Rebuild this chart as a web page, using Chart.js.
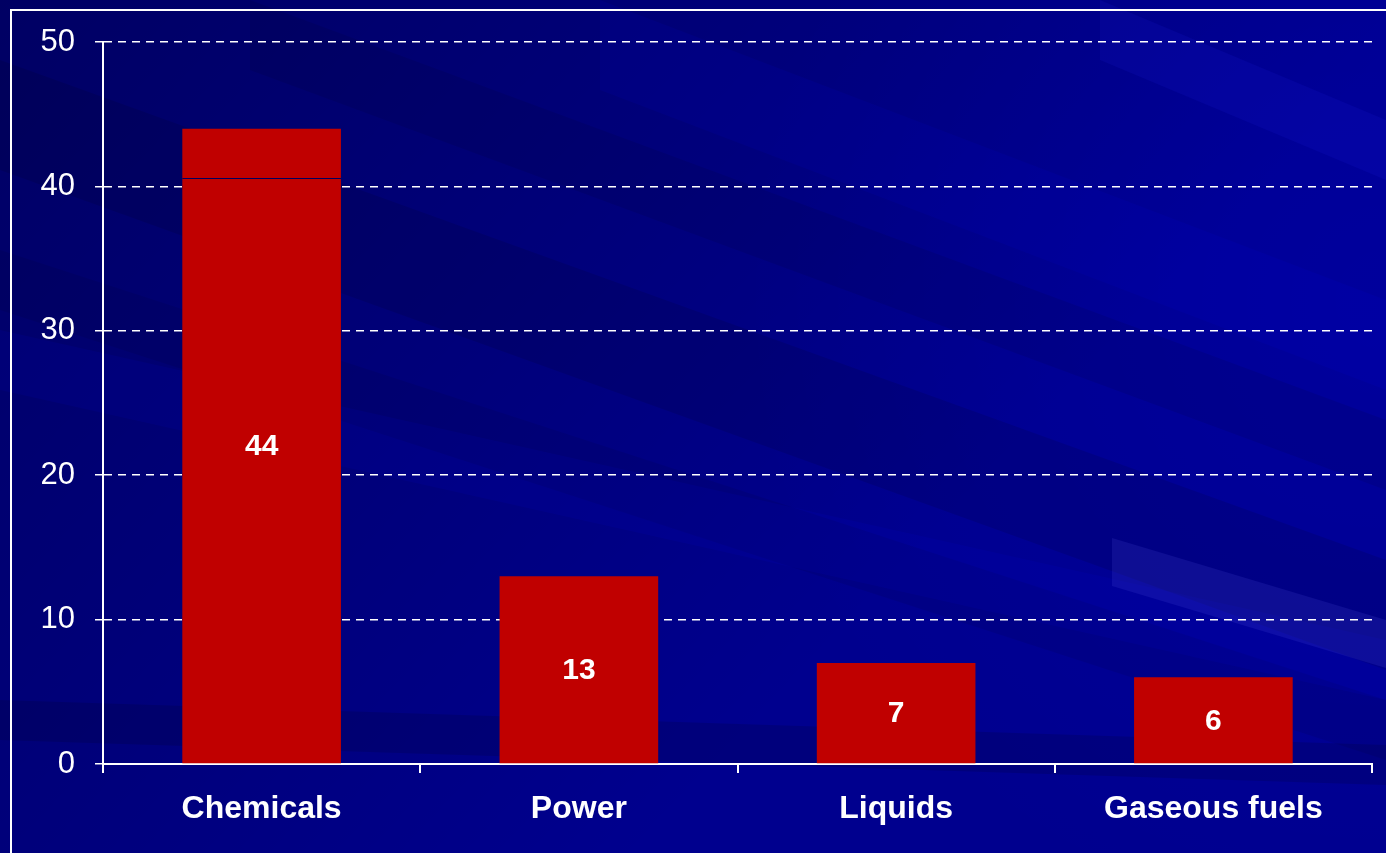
<!DOCTYPE html>
<html>
<head>
<meta charset="utf-8">
<script src="https://cdn.jsdelivr.net/npm/chart.js@4/dist/chart.umd.min.js"></script>
<style>
  html, body { margin: 0; padding: 0; background: #00008c; }
  #wrap { width: 1386px; height: 853px; position: relative; }
</style>
</head>
<body>
<div id="wrap"><canvas id="chart"></canvas></div>
<script>
// chart data
const categories = ["Chemicals", "Power", "Liquids", "Gaseous fuels"];
const values = [44, 13, 7, 6];
const yTicks = [0, 10, 20, 30, 40, 50];
// thin dark seam visible across the first bar
const seamValue = 40.6;

// paints the blue slide background with soft diagonal streaks and the white frame
const slideBackground = {
  id: "slideBackground",
  beforeDraw(chart) {
    const { ctx, width, height } = chart;
    ctx.save();
    ctx.fillStyle = "#00008e";
    ctx.fillRect(0, 0, width, height);

    // darker toward the upper left
    const g = ctx.createLinearGradient(0, 0, 900, 850);
    g.addColorStop(0, "rgba(0,0,0,0.30)");
    g.addColorStop(0.5, "rgba(0,0,0,0.13)");
    g.addColorStop(0.85, "rgba(0,0,0,0)");
    ctx.fillStyle = g;
    ctx.fillRect(0, 0, width, height);

    // brighter toward the right
    const r = ctx.createRadialGradient(1386, 300, 40, 1386, 300, 650);
    r.addColorStop(0, "rgba(0,0,255,0.12)");
    r.addColorStop(1, "rgba(0,0,255,0)");
    ctx.fillStyle = r;
    ctx.fillRect(0, 0, width, height);

    // streaks: [x0,y0, x1,y1 (top edge), thickness, colour]
    const streaks = [
      [0, 60, 1386, 560, 110, "rgba(0,0,0,0.10)"],
      [250, 0, 1386, 420, 70, "rgba(0,0,0,0.08)"],
      [0, 250, 1386, 700, 60, "rgba(0,0,0,0.07)"],
      [0, 330, 1386, 640, 60, "rgba(0,0,255,0.07)"],
      [600, 0, 1386, 300, 90, "rgba(0,0,255,0.07)"],
      [1100, 0, 1386, 120, 60, "rgba(40,40,255,0.10)"],
      [1112, 538, 1386, 620, 48, "rgba(90,90,230,0.16)"],
      [0, 700, 1386, 745, 40, "rgba(0,0,0,0.12)"]
    ];
    streaks.forEach(s => {
      ctx.fillStyle = s[5];
      ctx.beginPath();
      ctx.moveTo(s[0], s[1]);
      ctx.lineTo(s[2], s[3]);
      ctx.lineTo(s[2], s[3] + s[4]);
      ctx.lineTo(s[0], s[1] + s[4]);
      ctx.closePath();
      ctx.fill();
    });

    // white frame along the top and left edges
    ctx.strokeStyle = "#ffffff";
    ctx.lineWidth = 2;
    ctx.beginPath();
    ctx.moveTo(width, 10);
    ctx.lineTo(11, 10);
    ctx.lineTo(11, height);
    ctx.stroke();
    ctx.restore();
  }
};

// writes each value in the middle of its bar, plus the seam on the first bar
const barValues = {
  id: "barValues",
  afterDatasetsDraw(chart) {
    const { ctx } = chart;
    const meta = chart.getDatasetMeta(0);
    ctx.save();
    const first = meta.data[0].getProps(["x", "width"], true);
    const sy = Math.round(chart.scales.y.getPixelForValue(seamValue)) + 0.5;
    ctx.strokeStyle = "#000060";
    ctx.lineWidth = 1;
    ctx.beginPath();
    ctx.moveTo(first.x - first.width / 2, sy);
    ctx.lineTo(first.x + first.width / 2, sy);
    ctx.stroke();

    ctx.fillStyle = "#ffffff";
    ctx.font = "bold 30px 'Liberation Sans', Arial, sans-serif";
    ctx.textAlign = "center";
    ctx.textBaseline = "middle";
    meta.data.forEach((bar, i) => {
      const { x, y, base } = bar.getProps(["x", "y", "base"], true);
      ctx.fillText(String(values[i]), x, (y + base) / 2 + 1);
    });
    ctx.restore();
  }
};

new Chart(document.getElementById("chart"), {
  type: "bar",
  data: {
    labels: categories,
    datasets: [{
      data: values,
      backgroundColor: "#c00000",
      borderWidth: 0,
      categoryPercentage: 0.5,
      barPercentage: 1.0
    }]
  },
  options: {
    responsive: true,
    maintainAspectRatio: false,
    animation: false,
    layout: { padding: { top: 42, right: 14, bottom: 0, left: 0 } },
    plugins: {
      legend: { display: false },
      tooltip: { enabled: false }
    },
    scales: {
      x: {
        grid: {
          drawOnChartArea: false,
          color: "#ffffff",
          tickLength: 9,
          lineWidth: 2
        },
        border: { color: "#ffffff", width: 2 },
        ticks: {
          color: "#ffffff",
          padding: 17,
          font: { family: "'Liberation Sans', Arial, sans-serif", size: 32, weight: "bold" }
        },
        afterFit(scale) { scale.height = 89; }
      },
      y: {
        min: 0,
        max: 50,
        afterBuildTicks(scale) { scale.ticks = yTicks.map(v => ({ value: v })); },
        grid: {
          color: ctx => ctx.tick && ctx.tick.value === 0 ? "rgba(0,0,0,0)" : "#ffffff",
          lineWidth: 1.5,
          tickLength: 8,
          tickColor: "#ffffff",
          tickWidth: 1.5
        },
        border: { color: "#ffffff", width: 2, dash: [8, 6] },
        ticks: {
          color: "#ffffff",
          padding: 20,
          font: { family: "'Liberation Sans', Arial, sans-serif", size: 31 }
        },
        afterFit(scale) { scale.width = 103; }
      }
    }
  },
  plugins: [slideBackground, barValues]
});
</script>
</body>
</html>
